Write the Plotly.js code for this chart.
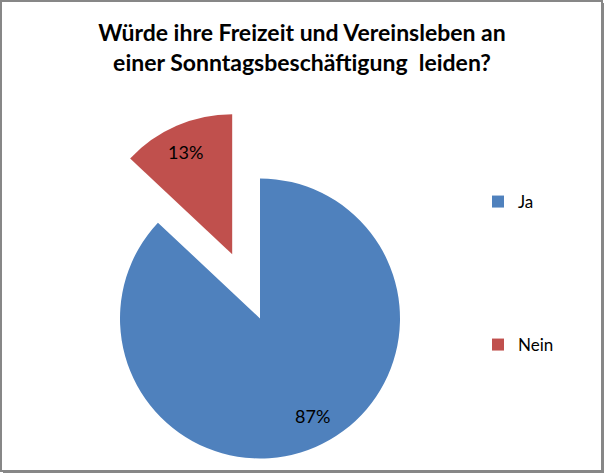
<!DOCTYPE html>
<html>
<head>
<meta charset="utf-8">
<script src="https://cdn.plot.ly/plotly-3.0.1.min.js"></script>
<style>html,body{margin:0;padding:0;background:#fff}#chart{width:604px;height:473px}</style>
</head>
<body>
<div id="chart"></div>
<script>
var labels = ['Ja', 'Nein'];
var values = [87, 13];
var colors = ['#4F81BD', '#C0504D'];
var titleText = 'Würde ihre Freizeit und Vereinsleben an<br>einer Sonntagsbeschäftigung  leiden?';

var W = 604, H = 473;
var cx = 260, cy = 318.5, R = 140;   // main pie centre / radius (px)
var pullFrac = 0.5;                  // pulled slice offset as fraction of R
var labelFrac = 0.78;
var FONT = 'Lato, "Open Sans", sans-serif';

var total = values.reduce(function(a,b){return a+b;},0);
// angles measured clockwise from 12 o'clock
var mids = [];
var acc = 0;
values.forEach(function(v){ mids.push((acc + v/2)/total*2*Math.PI); acc += v; });

function domainFor(x, y) {
  return {x: [(x - R)/W, (x + R)/W], y: [(H - y - R)/H, (H - y + R)/H]};
}
var pm = mids[1];
var px = cx + pullFrac*R*Math.sin(pm), py = cy - pullFrac*R*Math.cos(pm);

var transparent = 'rgba(0,0,0,0)';
var common = {type:'pie', labels: labels, values: values, sort:false, direction:'clockwise',
  rotation: 0, textinfo:'none', hoverinfo:'label+percent', showlegend:false};

var hiddenDomain = {x:[cx/W, (cx+1)/W], y:[(H-cy-60)/H, (H-cy-59)/H]};
var traces = [
  // legend-only tiny pies (hidden behind the main pie)
  {type:'pie', labels:[labels[0]], values:[values[0]], marker:{colors:[colors[0]]}, textinfo:'none',
   domain:hiddenDomain, legend:'legend', showlegend:true, hoverinfo:'skip'},
  {type:'pie', labels:[labels[1]], values:[values[1]], marker:{colors:[colors[1]]}, textinfo:'none',
   domain:hiddenDomain, legend:'legend2', showlegend:true, hoverinfo:'skip'},
  Object.assign({}, common, {marker:{colors:[colors[0], transparent]}, domain: domainFor(cx, cy)}),
  Object.assign({}, common, {marker:{colors:[transparent, colors[1]]}, domain: domainFor(px, py)})
];

var annotations = [];
var centres = [[cx, cy], [px, py]];
values.forEach(function(v, i){
  var c = centres[i];
  var ax = c[0] + labelFrac*R*Math.sin(mids[i]);
  var ay = c[1] - labelFrac*R*Math.cos(mids[i]);
  if (i === 0) { ax += 9; ay -= 3; } else { ax -= 3; ay -= 2; }
  annotations.push({xref:'paper', yref:'paper', x: ax/W, y: 1 - ay/H, showarrow:false,
    text: Math.round(v/total*100) + '%', font:{family:FONT, size:18, color:'#000'},
    xanchor:'center', yanchor:'middle'});
});

var layout = {
  width: W, height: H,
  margin: {l:0, r:0, t:0, b:0},
  paper_bgcolor:'#fff',
  title: {text: titleText, x: 0.5, xref:'paper', y: 1 - 41/H, yref:'paper', xanchor:'center', yanchor:'middle',
          font:{family:FONT, size:23, color:'#000', weight:'bold', lineposition:'none'}},
  legend: {x: 478/W, y: 1 - 202/H, xanchor:'left', yanchor:'middle', bgcolor:'rgba(0,0,0,0)',
           font:{family:FONT, size:17, color:'#000'}},
  legend2: {x: 478/W, y: 1 - 345/H, xanchor:'left', yanchor:'middle', bgcolor:'rgba(0,0,0,0)',
           font:{family:FONT, size:17, color:'#000'}},
  annotations: annotations,
  shapes: [
    {type:'rect', xref:'paper', yref:'paper', x0: 1/W, x1: 1 - 2/W, y0: 2/H, y1: 1 - 1/H,
     line:{color:'#878787', width:2}},
    {type:'line', xref:'paper', yref:'paper', x0: 1 - 1/W, x1: 1 - 1/W, y0: 0, y1: 1 - 3/H, line:{color:'#878787', width:2}},
    {type:'line', xref:'paper', yref:'paper', x0: 3/W, x1: 1, y0: 1/H, y1: 1/H, line:{color:'#878787', width:2}}
  ]
};

Plotly.newPlot('chart', traces, layout, {displayModeBar:false, staticPlot:true});
</script>
</body>
</html>
